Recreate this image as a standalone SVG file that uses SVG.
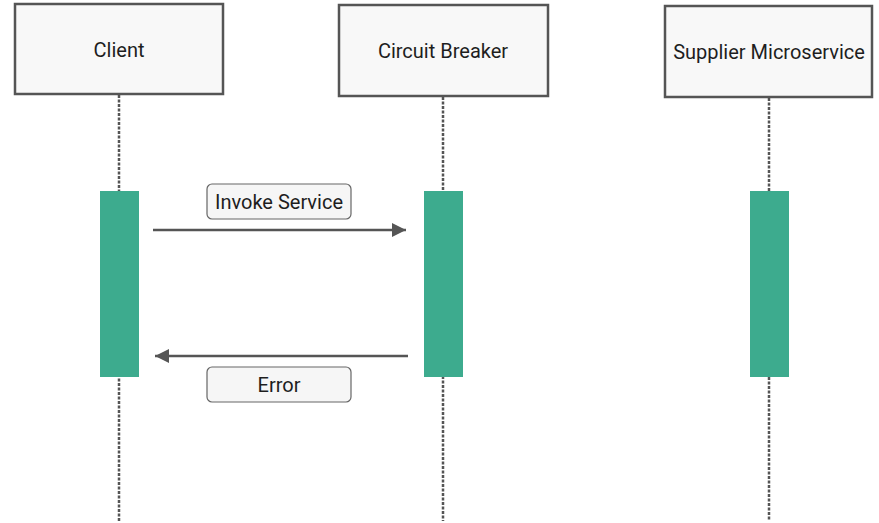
<svg xmlns="http://www.w3.org/2000/svg" width="879" height="523" viewBox="0 0 879 523">
<defs>
<style>
.box{fill:#f8f8f8;stroke:#555;stroke-width:2.5}
.lbl{font-family:Roboto,"Liberation Sans",sans-serif;font-size:20px;fill:#1e1e1e;text-anchor:middle}
.life{stroke:#555;stroke-width:2.5;stroke-dasharray:3 1.5;fill:none}
.act{fill:#3dab8e}
.msg{stroke:#555;stroke-width:2.5;fill:none}
.tag{fill:#f6f6f6;stroke:#666;stroke-width:1.2}
</style>
<marker id="ah" viewBox="0 0 10 10" refX="10" refY="5" markerWidth="15" markerHeight="14" markerUnits="userSpaceOnUse" orient="auto">
<path d="M0,0 L10,5 L0,10 z" fill="#555"/>
</marker>
</defs>
<rect width="879" height="523" fill="#fff"/>
<g id="lifelines">
<line class="life" x1="119" y1="95" x2="119" y2="521"/>
<line class="life" x1="443" y1="97" x2="443" y2="521"/>
<line class="life" x1="769" y1="98" x2="769" y2="521"/>
</g>
<g id="client">
<rect class="box" x="15" y="4" width="208" height="90"/>
<text class="lbl" x="119" y="57">Client</text>
<rect class="act" x="100" y="191" width="39" height="186"/>
</g>
<g id="circuit-breaker">
<rect class="box" x="339" y="5" width="209" height="91"/>
<text class="lbl" x="443" y="58">Circuit Breaker</text>
<rect class="act" x="424" y="191" width="39" height="186"/>
</g>
<g id="supplier">
<rect class="box" x="665" y="6" width="207" height="91"/>
<text class="lbl" x="769" y="59">Supplier Microservice</text>
<rect class="act" x="750" y="191" width="39" height="186"/>
</g>
<g id="connectors">
<line class="msg" x1="153" y1="230" x2="406" y2="230" marker-end="url(#ah)"/>
<line class="msg" x1="408" y1="356" x2="155" y2="356" marker-end="url(#ah)"/>
</g>
<g id="label-invoke">
<rect class="tag" x="207" y="184" width="144" height="35" rx="5"/>
<text class="lbl" x="279" y="209">Invoke Service</text>
</g>
<g id="label-error">
<rect class="tag" x="207" y="367" width="144" height="35" rx="5"/>
<text class="lbl" x="279" y="392">Error</text>
</g>
</svg>
